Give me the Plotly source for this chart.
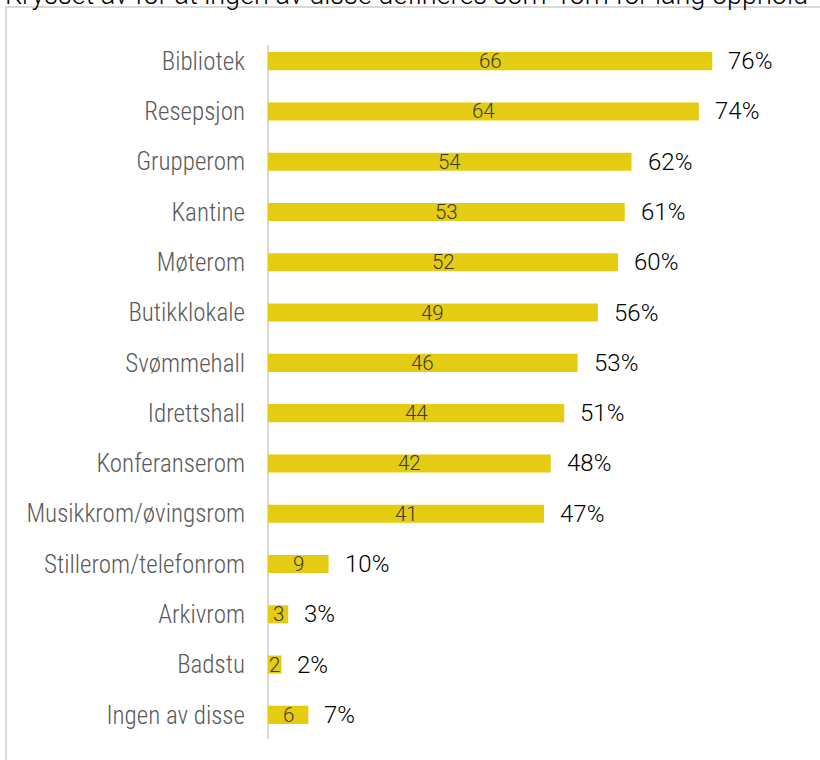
import plotly.graph_objects as go

categories = [
    "Bibliotek", "Resepsjon", "Grupperom", "Kantine", "Møterom",
    "Butikklokale", "Svømmehall", "Idrettshall", "Konferanserom",
    "Musikkrom/øvingsrom", "Stillerom/telefonrom", "Arkivrom", "Badstu",
    "Ingen av disse",
]
counts = [66, 64, 54, 53, 52, 49, 46, 44, 42, 41, 9, 3, 2, 6]
percents = [76, 74, 62, 61, 60, 56, 53, 51, 48, 47, 10, 3, 2, 7]
heading = 'Krysset av for at ingen av disse defineres som "rom for lang opphold"'

W, H = 820, 760
ML, MR, MT, MB = 268, 0, 36, 20
PW, PH = W - ML - MR, H - MT - MB

def px_x(p):
    return (p - ML) / PW

def px_y(p):
    return (H - MB - p) / PH

BAR = "#E4CC12"
GRID = "#D9D9D9"
LABEL_FONT = "Roboto Condensed"
VALUE_FONT = "Roboto"

fig = go.Figure(go.Bar(
    x=counts, y=categories, orientation="h",
    marker=dict(color=BAR, line=dict(width=0)),
    width=0.36, hoverinfo="skip",
))

annotations = []
for c, v, p in zip(categories, counts, percents):
    annotations.append(dict(
        x=v / 2, y=c, xref="x", yref="y", text=str(v), showarrow=False,
        xanchor="center", yanchor="middle",
        font=dict(family=VALUE_FONT, size=20.5, color="#3A3A3A", weight=300),
    ))
    annotations.append(dict(
        x=v, y=c, xref="x", yref="y", text=f"{p}%", showarrow=False,
        xanchor="left", yanchor="middle", xshift=14,
        font=dict(family=VALUE_FONT, size=24, color="#000000", weight=300),
    ))

annotations.append(dict(
    x=px_x(3), y=px_y(13), xref="paper", yref="paper", text=heading,
    showarrow=False, xanchor="left", yanchor="bottom",
    font=dict(family=VALUE_FONT, size=27, color="#000000", weight=300),
))

shapes = [
    # outer frame
    dict(type="rect", xref="paper", yref="paper",
         x0=px_x(6), x1=px_x(W + 20), y0=px_y(7), y1=px_y(H + 20),
         line=dict(color=GRID, width=2), layer="below"),
    # category axis line
    dict(type="line", xref="paper", yref="paper",
         x0=0, x1=0, y0=px_y(739), y1=px_y(45),
         line=dict(color=GRID, width=2), layer="below"),
]

fig.update_layout(
    width=W, height=H,
    margin=dict(l=ML, r=MR, t=MT, b=MB, pad=0),
    paper_bgcolor="white", plot_bgcolor="white",
    showlegend=False,
    bargap=0.64,
    annotations=annotations,
    shapes=shapes,
    xaxis=dict(range=[0, 82], showgrid=False, zeroline=False,
               showticklabels=False, showline=False, ticks=""),
    yaxis=dict(categoryorder="array", categoryarray=categories,
               autorange="reversed", showgrid=False, zeroline=False,
               showline=False, ticks="", ticklabelstandoff=22,
               tickfont=dict(family=LABEL_FONT, size=25, color="#595959",
                             weight=300)),
)

fig.write_html("out.html")
